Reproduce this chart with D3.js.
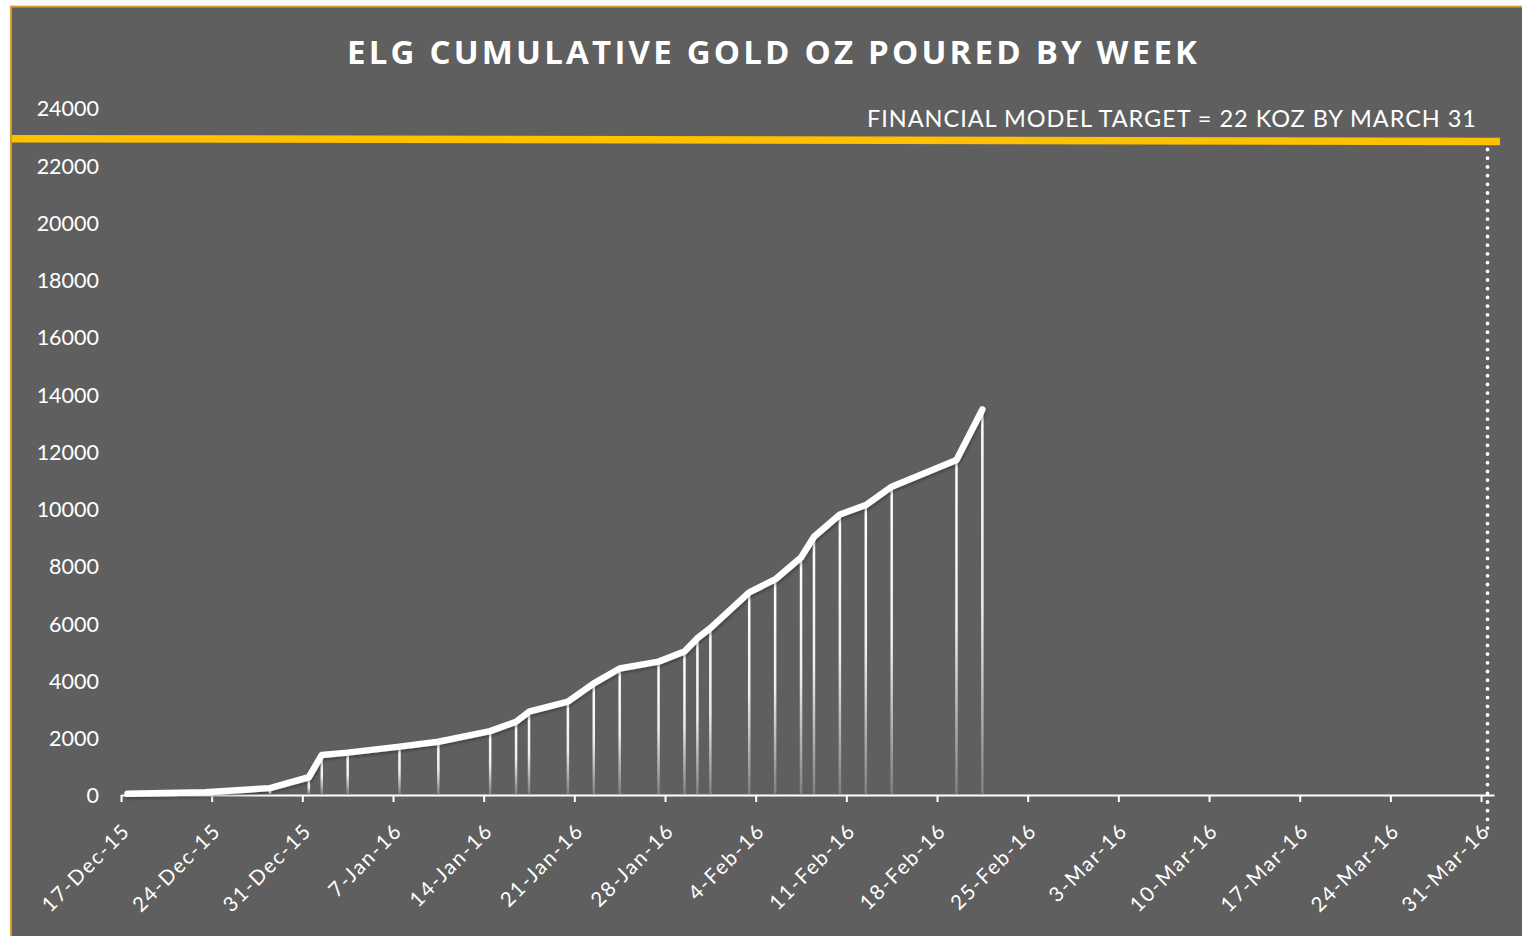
<!DOCTYPE html>
<html><head><meta charset="utf-8">
<script src="https://cdn.jsdelivr.net/npm/d3@7"></script>
<style>html,body{margin:0;padding:0;background:#fff;overflow:hidden}svg{display:block}</style>
</head><body>
<svg id="chart" width="1522" height="936"></svg>
<script>
// ---------- data ----------
const pourDates = ["2015-12-17","2015-12-23","2015-12-28","2015-12-31","2016-01-01","2016-01-03",
  "2016-01-07","2016-01-10","2016-01-14","2016-01-16","2016-01-17","2016-01-20","2016-01-22",
  "2016-01-24","2016-01-27","2016-01-29","2016-01-30","2016-01-31","2016-02-03","2016-02-05",
  "2016-02-07","2016-02-08","2016-02-10","2016-02-12","2016-02-14","2016-02-19","2016-02-21"];
const cumulativeOz = [40,100,240,620,1400,1480,1690,1860,2230,2560,2910,3260,3900,
  4420,4660,5010,5480,5830,7080,7530,8300,9020,9800,10130,10770,11700,13470];
const xTickDates = ["2015-12-17","2015-12-24","2015-12-31","2016-01-07","2016-01-14","2016-01-21",
  "2016-01-28","2016-02-04","2016-02-11","2016-02-18","2016-02-25","2016-03-03","2016-03-10",
  "2016-03-17","2016-03-24","2016-03-31"];
const xDomain = ["2015-12-17","2016-04-01"];
const yTicks = [0,2000,4000,6000,8000,10000,12000,14000,16000,18000,20000,22000,24000];
const targetLineLevel = [22930, 22830];   // drawn target bar (left end, right end)
const targetDate = "2016-03-31";
const titleText = "ELG CUMULATIVE GOLD OZ POURED BY WEEK";
const targetText = "FINANCIAL MODEL TARGET = 22 KOZ BY MARCH 31";

// ---------- setup ----------
const parse = d3.utcParse("%Y-%m-%d");
const mid = d => d3.utcHour.offset(parse(d), 12);
const svg = d3.select("#chart");
const BG = "#5f5f5f";

const x = d3.scaleUtc().domain(xDomain.map(parse)).range([121, 1494]);
const y = d3.scaleLinear().domain([0, 24000]).range([795, 108]);

const defs = svg.append("defs");
const grad = defs.append("linearGradient").attr("id","dropGrad")
  .attr("x1",0).attr("y1",0).attr("x2",0).attr("y2",1);
grad.append("stop").attr("offset","0%").attr("stop-color","#fff").attr("stop-opacity",1);
grad.append("stop").attr("offset","50%").attr("stop-color","#fff").attr("stop-opacity",0.9);
grad.append("stop").attr("offset","100%").attr("stop-color","#fff").attr("stop-opacity",0.2);
const f = defs.append("filter").attr("id","shadow").attr("x","-5%").attr("y","-5%").attr("width","110%").attr("height","120%");
f.append("feDropShadow").attr("dx",1).attr("dy",2).attr("stdDeviation",1.5)
  .attr("flood-color","#000").attr("flood-opacity",0.3);

// chart frame
svg.append("rect").attr("x",11).attr("y",6.7).attr("width",1600).attr("height",1000)
  .attr("fill",BG).attr("stroke","#D4982B").attr("stroke-width",2);

// title
svg.append("text").attr("x",772).attr("y",64).attr("text-anchor","middle")
  .attr("font-family","'Open Sans', sans-serif").attr("font-weight",700).attr("font-size",33)
  .attr("fill","#fff").attr("textLength",850).attr("lengthAdjust","spacing").text(titleText);

// y labels
const yAxis = svg.append("g").attr("transform","translate(99,0)")
  .call(d3.axisLeft(y).tickValues(yTicks).tickSize(0).tickPadding(0).tickFormat(d3.format("d")));
yAxis.select(".domain").remove();
yAxis.selectAll("text").attr("font-family","Lato, sans-serif").attr("font-size",21.5)
  .attr("fill","#fff").attr("dy","0.37em");

// drop lines
const pts = pourDates.map((d,i) => ({date: mid(d), v: cumulativeOz[i]}));
svg.append("g").selectAll("rect").data(pts).join("rect")
  .attr("x", d => x(d.date) - 1.25).attr("width", 2.5)
  .attr("y", d => y(d.v) + 3).attr("height", d => Math.max(0, y(0) - 1 - (y(d.v) + 3)))
  .attr("fill","url(#dropGrad)");

// x axis
const xAxis = svg.append("g").attr("transform",`translate(0,${y(0)})`)
  .call(d3.axisBottom(x).tickValues(xTickDates.map(parse)).tickSize(7).tickSizeOuter(0)
    .tickFormat(d3.utcFormat("%-d-%b-%y")));
xAxis.select(".domain").attr("stroke","#fff").attr("stroke-width",2);
xAxis.selectAll(".tick line").attr("stroke","#fff").attr("stroke-width",2);
xAxis.selectAll(".tick text").attr("fill","#fff").attr("font-family","Lato, sans-serif")
  .attr("font-size",20.5).attr("letter-spacing","1.8px")
  .attr("text-anchor","end").attr("x",0).attr("y",0).attr("dy",0)
  .attr("transform","translate(10,37) rotate(-45)");

// main line
svg.append("path").datum(pts)
  .attr("d", d3.line().x(d => x(d.date)).y(d => y(d.v)))
  .attr("fill","none").attr("stroke","#fff").attr("stroke-width",6.5)
  .attr("stroke-linejoin","round").attr("stroke-linecap","round").attr("filter","url(#shadow)");

// target bar
svg.append("line").attr("x1",12).attr("x2",1500)
  .attr("y1", y(targetLineLevel[0])).attr("y2", y(targetLineLevel[1]))
  .attr("stroke","#FFC000").attr("stroke-width",7.5);

// dotted target date line
svg.append("line").attr("x1", x(mid(targetDate))).attr("x2", x(mid(targetDate)))
  .attr("y1", y(targetLineLevel[1]) + 8).attr("y2", 833)
  .attr("stroke","#fff").attr("stroke-width",3.8).attr("stroke-linecap","round")
  .attr("stroke-dasharray","0 8.7");

// target annotation
svg.append("text").attr("x",1476).attr("y",127).attr("text-anchor","end")
  .attr("font-family","Lato, sans-serif").attr("font-size",23.5).attr("fill","#fff")
  .attr("textLength",609).attr("lengthAdjust","spacing").text(targetText);
</script>
</body></html>
